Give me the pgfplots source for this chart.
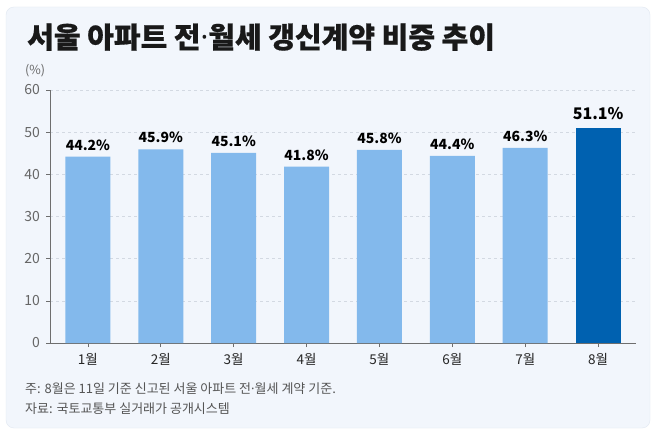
\documentclass[border=0pt]{standalone}
\usepackage{fontspec}
\setmainfont{Noto Sans CJK KR}
\newfontfamily\titlefont{Noto Sans CJK KR}[BoldFeatures={FakeBold=0.6}]
\newfontfamily\latin{Noto Sans}
\usepackage{pgfplots}
\pgfplotsset{compat=1.18}
\definecolor{card}{HTML}{F2F6FC}
\definecolor{cardline}{HTML}{E1E8F2}
\definecolor{barlight}{HTML}{83B9EC}
\definecolor{bardark}{HTML}{0061B0}
\definecolor{gridc}{HTML}{D3D9E2}
\definecolor{axisc}{HTML}{6E6E6E}
\definecolor{tickc}{HTML}{666666}
\definecolor{notec}{HTML}{555555}
\newcommand{\mdot}{{\latin ·}}
\begin{document}
\begin{tikzpicture}
  \path[use as bounding box] (0pt,0pt) rectangle (656pt,437pt);
  \fill[white] (0pt,0pt) rectangle (656pt,437pt);
  \draw[cardline, fill=card, rounded corners=8pt] (6pt,9pt) rectangle (650pt,430pt);
  % title and unit
  \node[anchor=base west, inner sep=0pt, font=\fontsize{29}{33}\titlefont\bfseries, text=black!90] at (27pt,389pt) {서울 아파트 전\mdot 월세 갱신계약 비중 추이};
  \node[anchor=base west, inner sep=0pt, font=\fontsize{12.5}{14}\selectfont, text=tickc] at (25pt,362pt) {(\%)};
  \begin{axis}[
      at={(50pt,94pt)}, anchor=south west,
      scale only axis, width=586pt, height=253pt,
      xmin=-0.52, xmax=7.52, ymin=0, ymax=60,
      ytick={0,10,...,60},
      xtick={0,...,7},
      xticklabels={1월,2월,3월,4월,5월,6월,7월,8월},
      axis lines*=left,
      axis line style={axisc, line width=0.8pt},
      tick style={axisc, line width=0.6pt},
      tick align=outside, major tick length=4pt,
      ymajorgrids, grid style={gridc, dashed, line width=0.6pt},
      /pgf/number format/assume math mode=true,
      yticklabel style={font=\fontsize{14}{16}\selectfont, text=tickc, inner sep=0pt, xshift=-6pt},
      xticklabel style={font=\fontsize{13.5}{16}\selectfont, text=black!85, inner sep=0pt, yshift=-6pt},
      ybar, bar width=45pt,
      nodes near coords={\pgfmathprintnumber[fixed, fixed zerofill, precision=1]{\pgfplotspointmeta}\%},
      clip=false,
    ]
    \addplot[fill=barlight, draw=none, bar shift=0pt,
      every node near coord/.append style={anchor=base, inner sep=0pt, yshift=6.5pt, font=\fontsize{14}{16}\selectfont\bfseries, text=black}]
      coordinates {(0,44.2) (1,45.9) (2,45.1) (3,41.8) (4,45.8) (5,44.4) (6,46.3)};
    \addplot[fill=bardark, draw=none, bar shift=0pt,
      every node near coord/.append style={anchor=base, inner sep=0pt, yshift=8.5pt, font=\fontsize{16}{18}\selectfont\bfseries, text=black}]
      coordinates {(7,51.1)};
  \end{axis}
  % notes
  \node[anchor=base west, inner sep=0pt, font=\fontsize{13}{15}\selectfont, text=notec] at (25pt,44pt) {주: 8월은 11일 기준 신고된 서울 아파트 전\mdot 월세 계약 기준.};
  \node[anchor=base west, inner sep=0pt, font=\fontsize{13}{15}\selectfont, text=notec] at (25pt,24pt) {자료: 국토교통부 실거래가 공개시스템};
\end{tikzpicture}
\end{document}
